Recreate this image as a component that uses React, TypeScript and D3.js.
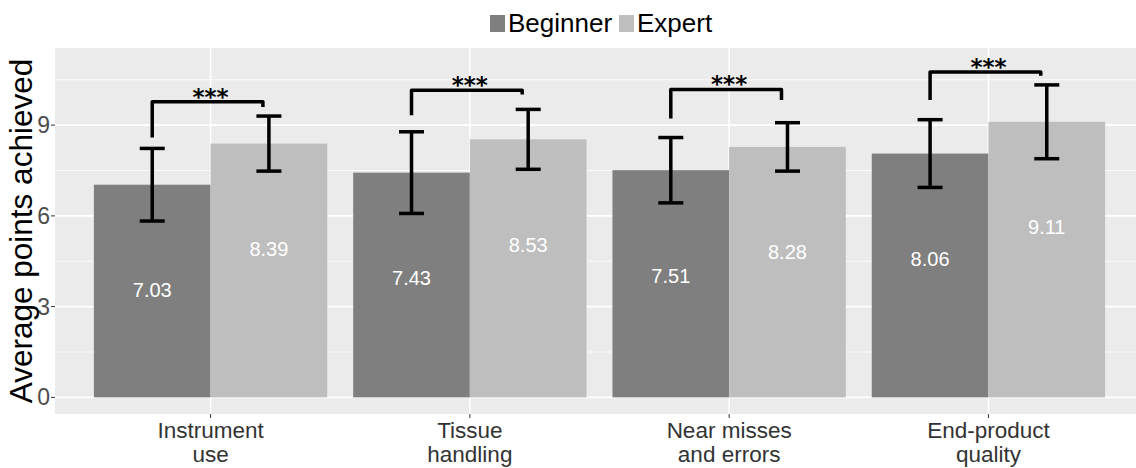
import React, { useEffect, useRef } from "react";
import * as d3 from "d3";

// data
const categories = ["Instrument use", "Tissue handling", "Near misses and errors", "End-product quality"];
const categoryLines = [["Instrument", "use"], ["Tissue", "handling"], ["Near misses", "and errors"], ["End-product", "quality"]];
const groups = ["Beginner", "Expert"];
const beginnerMeans = [7.03, 7.43, 7.51, 8.06];
const expertMeans = [8.39, 8.53, 8.28, 9.11];
const beginnerErr = [1.2, 1.35, 1.08, 1.12];
const expertErr = [0.91, 0.99, 0.8, 1.22];
const bracketTop = [9.77, 10.15, 10.18, 10.76];
const bracketLeftEnd = [8.59, 9.33, 9.22, 9.83];
const bracketRightEnd = [9.6, 10.01, 9.83, 10.63];
const significance = ["***", "***", "***", "***"];
const yTicks = [0, 3, 6, 9];
const yMinorTicks = [1.5, 4.5, 7.5, 10.5];

const colors = { Beginner: "#7f7f7f", Expert: "#bebebe" };

export default function App() {
  const ref = useRef<SVGSVGElement>(null);

  useEffect(() => {
    document.body.style.margin = "0";
    draw();
  }, []);

  function draw() {
    const width = 1136;
    const height = 468;
    const panel = { left: 55, top: 48, right: 1144, bottom: 414 };
    const font = "'Liberation Sans', Arial, sans-serif";

    const svg = d3.select(ref.current).attr("width", width).attr("height", height);
    svg.selectAll("*").remove();

    const x = d3.scaleBand().domain(categories).range([panel.left, panel.right]).paddingInner(0).paddingOuter(0.1);
    const step = x.bandwidth();
    const xg = d3.scaleBand().domain(groups).range([0.05 * step, 0.95 * step]);
    const y = d3.scaleLinear().domain([-0.55, 11.55]).range([panel.bottom, panel.top]);

    const rows = categories.map((c, i) => ({
      cat: c,
      i,
      bars: [
        { g: "Beginner", v: beginnerMeans[i], e: beginnerErr[i] },
        { g: "Expert", v: expertMeans[i], e: expertErr[i] },
      ],
    }));

    // panel + grid
    svg.append("rect").attr("x", panel.left).attr("y", panel.top)
      .attr("width", panel.right - panel.left).attr("height", panel.bottom - panel.top).attr("fill", "#ebebeb");

    svg.selectAll(".minor").data(yMinorTicks).join("line").attr("class", "minor")
      .attr("x1", panel.left).attr("x2", panel.right)
      .attr("y1", d => y(d)).attr("y2", d => y(d))
      .attr("stroke", "#fff").attr("stroke-width", 0.8);

    svg.selectAll(".major").data(yTicks).join("line").attr("class", "major")
      .attr("x1", panel.left).attr("x2", panel.right)
      .attr("y1", d => y(d)).attr("y2", d => y(d))
      .attr("stroke", "#fff").attr("stroke-width", 1.6);

    svg.selectAll(".vgrid").data(categories).join("line").attr("class", "vgrid")
      .attr("x1", d => x(d)! + step / 2).attr("x2", d => x(d)! + step / 2)
      .attr("y1", panel.top).attr("y2", panel.bottom)
      .attr("stroke", "#fff").attr("stroke-width", 1.6);

    // bars
    const grp = svg.selectAll(".grp").data(rows).join("g").attr("class", "grp")
      .attr("transform", d => `translate(${x(d.cat)}, 0)`);

    grp.selectAll("rect").data(d => d.bars).join("rect")
      .attr("x", d => xg(d.g)!).attr("width", xg.bandwidth())
      .attr("y", d => y(d.v)).attr("height", d => y(0) - y(d.v))
      .attr("fill", d => colors[d.g as "Beginner" | "Expert"]);

    // value labels
    grp.selectAll(".val").data(d => d.bars).join("text").attr("class", "val")
      .attr("x", d => xg(d.g)! + xg.bandwidth() / 2)
      .attr("y", d => y(d.v - 3.49))
      .attr("text-anchor", "middle").attr("dominant-baseline", "central")
      .style("font-family", font).style("font-size", "20px").attr("fill", "#fff")
      .text(d => d.v.toFixed(2));

    // error bars
    const err = grp.selectAll(".err").data(d => d.bars).join("g").attr("class", "err")
      .attr("transform", d => `translate(${xg(d.g)! + xg.bandwidth() / 2}, 0)`);
    err.append("line").attr("x1", 0).attr("x2", 0)
      .attr("y1", d => y(d.v + d.e)).attr("y2", d => y(d.v - d.e))
      .attr("stroke", "#000").attr("stroke-width", 3.5);
    err.append("line").attr("x1", -12.5).attr("x2", 12.5)
      .attr("y1", d => y(d.v + d.e)).attr("y2", d => y(d.v + d.e))
      .attr("stroke", "#000").attr("stroke-width", 3.5);
    err.append("line").attr("x1", -12.5).attr("x2", 12.5)
      .attr("y1", d => y(d.v - d.e)).attr("y2", d => y(d.v - d.e))
      .attr("stroke", "#000").attr("stroke-width", 3.5);

    // significance brackets
    grp.append("path")
      .attr("d", d => {
        const lx = xg("Beginner")! + xg.bandwidth() / 2;
        const rx = xg("Expert")! + xg.bandwidth() / 2 - 6;
        return `M${lx},${y(bracketLeftEnd[d.i])}V${y(bracketTop[d.i])}H${rx}V${y(bracketRightEnd[d.i])}`;
      })
      .attr("fill", "none").attr("stroke", "#000").attr("stroke-width", 3.5).attr("stroke-linejoin", "round");

    grp.append("text")
      .attr("x", step / 2).attr("y", d => y(bracketTop[d.i]) + 3)
      .attr("text-anchor", "middle")
      .style("font-family", "'DejaVu Sans', sans-serif").style("font-size", "23px").style("font-weight", "bold").attr("fill", "#000")
      .text(d => significance[d.i]);

    // y axis
    svg.selectAll(".ytick").data(yTicks).join("line").attr("class", "ytick")
      .attr("x1", panel.left - 4).attr("x2", panel.left)
      .attr("y1", d => y(d)).attr("y2", d => y(d))
      .attr("stroke", "#333").attr("stroke-width", 1);
    svg.selectAll(".ylab").data(yTicks).join("text").attr("class", "ylab")
      .attr("x", panel.left - 5).attr("y", d => y(d))
      .attr("text-anchor", "end").attr("dominant-baseline", "central")
      .style("font-family", font).style("font-size", "23px").attr("fill", "#4d4d4d")
      .text(d => d);

    // x axis
    svg.selectAll(".xtick").data(categories).join("line").attr("class", "xtick")
      .attr("x1", d => x(d)! + step / 2).attr("x2", d => x(d)! + step / 2)
      .attr("y1", panel.bottom).attr("y2", panel.bottom + 4)
      .attr("stroke", "#333").attr("stroke-width", 1);
    const xl = svg.selectAll(".xlab").data(categories).join("text").attr("class", "xlab")
      .attr("text-anchor", "middle")
      .style("font-family", font).style("font-size", "22.5px").attr("fill", "#333");
    xl.selectAll("tspan").data(d => categoryLines[categories.indexOf(d)].map(t => ({ t, x: x(d)! + step / 2 })))
      .join("tspan").attr("x", d => d.x).attr("y", (d, i) => 437.5 + i * 24.5).text(d => d.t);

    svg.append("text")
      .attr("transform", `translate(32, ${(panel.top + panel.bottom) / 2}) rotate(-90)`)
      .attr("text-anchor", "middle")
      .style("font-family", font).style("font-size", "31.5px").attr("fill", "#000")
      .text("Average points achieved");

    // legend
    const legend = [
      { g: "Beginner", sx: 490, tx: 508 },
      { g: "Expert", sx: 619, tx: 637 },
    ];
    svg.selectAll(".lsw").data(legend).join("rect").attr("class", "lsw")
      .attr("x", d => d.sx).attr("y", 15).attr("width", 15).attr("height", 17)
      .attr("fill", d => colors[d.g as "Beginner" | "Expert"]);
    svg.selectAll(".ltx").data(legend).join("text").attr("class", "ltx")
      .attr("x", d => d.tx).attr("y", 32)
      .style("font-family", font).style("font-size", "26px").attr("fill", "#000")
      .text(d => d.g);
  }

  return <svg ref={ref} style={{ display: "block" }} />;
}
